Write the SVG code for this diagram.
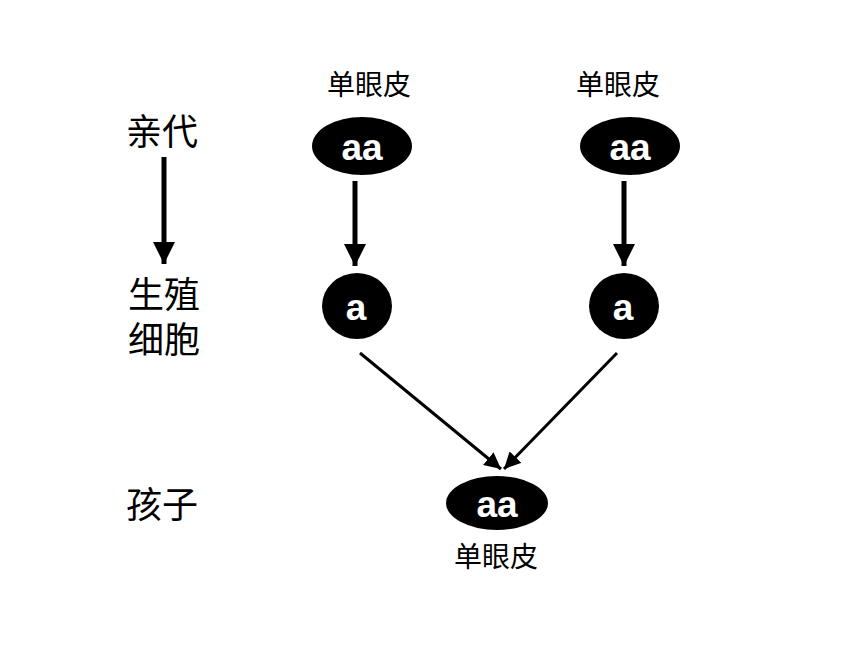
<svg xmlns="http://www.w3.org/2000/svg" width="860" height="645" viewBox="0 0 860 645">
<style>
.lbl{font-family:"Liberation Sans","Noto Sans CJK SC",sans-serif;font-size:28px;fill:#000;text-anchor:middle}
.side{font-family:"Liberation Sans","Noto Sans CJK SC",sans-serif;font-size:36px;fill:#000}
.gene{font-family:"Liberation Sans",Arial,sans-serif;font-size:37px;font-weight:bold;fill:#fff;text-anchor:middle}
.node{fill:#000}
.thick{stroke:#000;stroke-width:5;fill:none}
.thin{stroke:#000;stroke-width:3;fill:none}
</style>
<defs>
<marker id="ah" viewBox="0 0 10 10" refX="10" refY="5" markerWidth="4.4" markerHeight="4.4" markerUnits="strokeWidth" orient="auto">
<path d="M0,0 L10,5 L0,10 z" fill="#000"/>
</marker>
<marker id="ah2" viewBox="0 0 10 10" refX="10" refY="5" markerWidth="5.5" markerHeight="5.5" markerUnits="strokeWidth" orient="auto">
<path d="M0,0 L10,5 L0,10 z" fill="#000"/>
</marker>
</defs>
<g id="side-labels">
<text class="side" x="126" y="145">亲代</text>
<text class="side" x="128" y="308">生殖</text>
<text class="side" x="128" y="353">细胞</text>
<text class="side" x="126" y="518">孩子</text>
</g>
<g id="connectors">
<line class="thick" x1="164" y1="157" x2="164" y2="264" marker-end="url(#ah)"/>
<line class="thick" x1="355" y1="181" x2="355" y2="266" marker-end="url(#ah)"/>
<line class="thick" x1="624" y1="181" x2="624" y2="266" marker-end="url(#ah)"/>
<line class="thin" x1="360" y1="353" x2="501" y2="469" marker-end="url(#ah2)"/>
<line class="thin" x1="617" y1="353" x2="504" y2="469" marker-end="url(#ah2)"/>
</g>
<g id="parent1">
<text class="lbl" x="369" y="95">单眼皮</text>
<ellipse class="node" cx="362" cy="146" rx="50" ry="29"/>
<text class="gene" x="362" y="160">aa</text>
</g>
<g id="parent2">
<text class="lbl" x="618" y="95">单眼皮</text>
<ellipse class="node" cx="630" cy="146" rx="50" ry="29"/>
<text class="gene" x="630" y="160">aa</text>
</g>
<g id="gamete1">
<ellipse class="node" cx="357" cy="306" rx="35" ry="33"/>
<text class="gene" x="356" y="320">a</text>
</g>
<g id="gamete2">
<ellipse class="node" cx="624" cy="306" rx="35" ry="33"/>
<text class="gene" x="623" y="320">a</text>
</g>
<g id="child">
<ellipse class="node" cx="497" cy="503" rx="51" ry="27"/>
<text class="gene" x="497" y="517">aa</text>
<text class="lbl" x="496" y="567">单眼皮</text>
</g>
</svg>
